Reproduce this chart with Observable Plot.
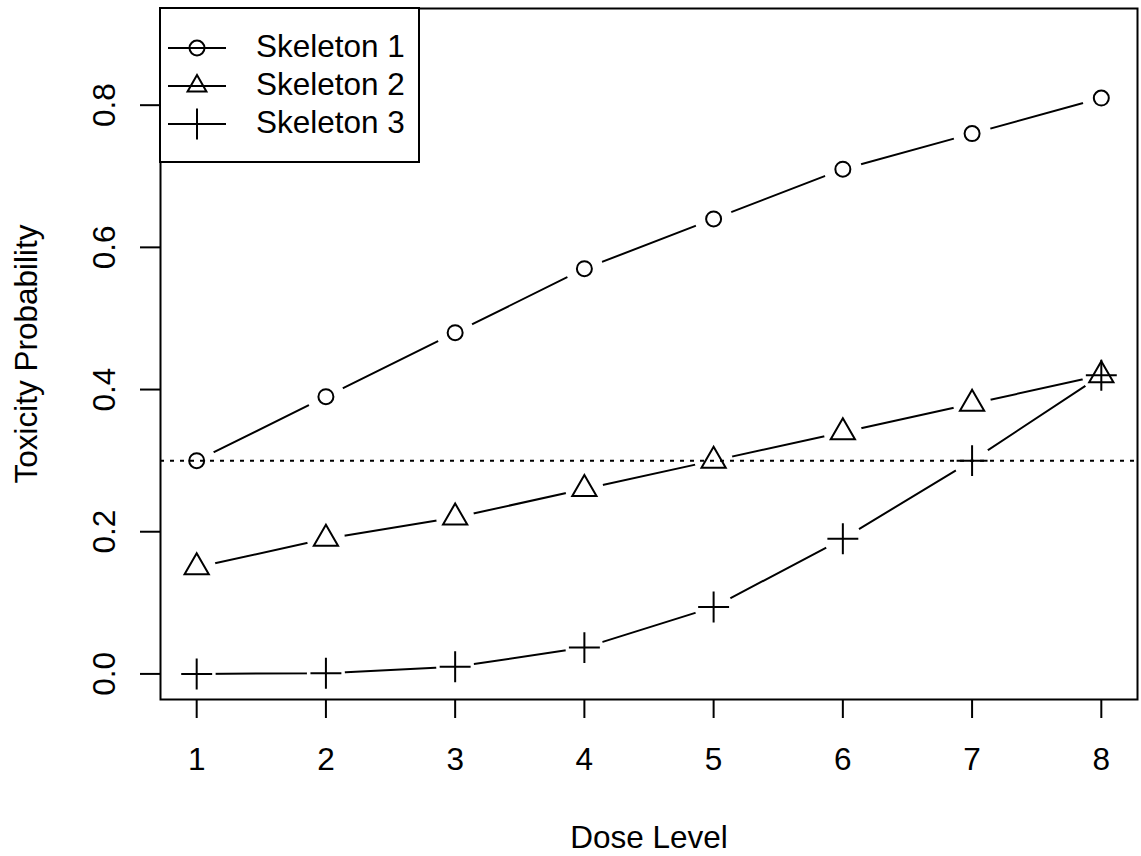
<!DOCTYPE html>
<html><head><meta charset="utf-8">
<script src="https://cdn.jsdelivr.net/npm/d3@7"></script>
<script src="https://cdn.jsdelivr.net/npm/@observablehq/plot@0.6"></script>
<style>
body{margin:0;background:#fff;}
#wrap{position:relative;width:1141px;height:856px;font-family:"Liberation Sans",Arial,sans-serif;}
#legend{position:absolute;left:159px;top:7px;}
</style></head><body><div id="wrap"></div>
<script>
const doses = [1, 2, 3, 4, 5, 6, 7, 8];
const skeleton1 = [0.30, 0.39, 0.48, 0.57, 0.64, 0.71, 0.76, 0.81];
const skeleton2 = [0.15, 0.19, 0.22, 0.26, 0.30, 0.34, 0.38, 0.42];
const skeleton3 = [0.000, 0.001, 0.010, 0.037, 0.094, 0.190, 0.300, 0.420];
const seriesNames = ["Skeleton 1", "Skeleton 2", "Skeleton 3"];
const seriesSymbols = ["circle", "triangle", "plus"];
const xTicks = doses;
const yTicks = [0.0, 0.2, 0.4, 0.6, 0.8];
const targetTox = 0.3;
const xTitle = "Dose Level";
const yTitle = "Toxicity Probability";

const rows = [];
[skeleton1, skeleton2, skeleton3].forEach((arr, i) =>
  arr.forEach((v, j) => rows.push({dose: doses[j], p: v, series: seriesNames[i]})));

const font = "'Liberation Sans', Arial, sans-serif";
const FS = 31.5;
const symR = {circle: 7.5, triangle: 9, plus: 10};

const symbolMarks = seriesNames.map((name, i) =>
  Plot.dot(rows.filter(d => d.series === name), {
    x: "dose", y: "p", symbol: seriesSymbols[i], r: symR[seriesSymbols[i]],
    stroke: "black", strokeWidth: 2, fill: "none"
  }));

const plot = Plot.plot({
  width: 1141, height: 856,
  marginLeft: 160, marginRight: 4, marginTop: 8, marginBottom: 157,
  x: {domain: [0.72, 8.28], label: null},
  y: {domain: [-0.036, 0.936], label: null},
  style: {fontFamily: font, background: "white", color: "black"},
  marks: [
    Plot.line(rows, {x: "dose", y: "p", z: "series", stroke: "black", strokeWidth: 2}),
    // white gaps around points (R type = "b")
    Plot.dot(rows, {x: "dose", y: "p", r: 19, fill: "white", fillOpacity: 1, stroke: null}),
    Plot.ruleY([targetTox], {stroke: "black", strokeWidth: 2, strokeDasharray: "4,6"}),
    ...symbolMarks,
    Plot.axisX({ticks: xTicks, tickSize: 19, tickFormat: () => "", strokeWidth: 2, label: null}),
    Plot.axisY({ticks: yTicks, tickSize: 20, tickFormat: () => "", strokeWidth: 2, label: null}),
    Plot.text(xTicks, {x: d => d, text: d => String(d), frameAnchor: "bottom", dy: 70, lineAnchor: "bottom", fontSize: FS, fill: "black"}),
    Plot.text(yTicks, {y: d => d, text: d => d.toFixed(1), frameAnchor: "left", dx: -46, rotate: -90, lineAnchor: "bottom", textAnchor: "middle", fontSize: FS, fill: "black"}),
    Plot.text([xTitle], {text: d => d, frameAnchor: "bottom", dy: 148, lineAnchor: "bottom", fontSize: FS, fill: "black"}),
    Plot.text([yTitle], {text: d => d, frameAnchor: "left", dx: -123.5, rotate: -90, lineAnchor: "bottom", textAnchor: "middle", fontSize: FS, fill: "black"}),
    Plot.frame({stroke: "black", strokeWidth: 2})
  ]
});
const wrap = document.getElementById("wrap");
wrap.appendChild(plot);

// legend overlay (R-style legend box)
const ns = "http://www.w3.org/2000/svg";
const leg = document.createElementNS(ns, "svg");
leg.setAttribute("id", "legend");
leg.setAttribute("width", 262);
leg.setAttribute("height", 157);
const W = 260, H = 155;
const box = document.createElementNS(ns, "rect");
box.setAttribute("x", 1); box.setAttribute("y", 1);
box.setAttribute("width", W - 1); box.setAttribute("height", H - 1);
box.setAttribute("fill", "white"); box.setAttribute("stroke", "black"); box.setAttribute("stroke-width", 2);
leg.appendChild(box);
seriesNames.forEach((name, i) => {
  const cy = 41 + i * 38;
  const ln = document.createElementNS(ns, "line");
  ln.setAttribute("x1", 9); ln.setAttribute("x2", 67);
  ln.setAttribute("y1", cy); ln.setAttribute("y2", cy);
  ln.setAttribute("stroke", "black"); ln.setAttribute("stroke-width", 2);
  leg.appendChild(ln);
  const sym = seriesSymbols[i];
  const r = symR[sym];
  const typeMap = {circle: d3.symbolCircle, triangle: d3.symbolTriangle2, plus: d3.symbolPlus};
  const p = document.createElementNS(ns, "path");
  p.setAttribute("d", d3.symbol(typeMap[sym], Math.PI * r * r)());
  p.setAttribute("transform", `translate(38,${cy})`);
  p.setAttribute("fill", "none");
  p.setAttribute("stroke", "black"); p.setAttribute("stroke-width", 2);
  leg.appendChild(p);
  const t = document.createElementNS(ns, "text");
  t.setAttribute("x", 97); t.setAttribute("y", cy + 8.5);
  t.setAttribute("font-size", FS); t.setAttribute("font-family", font);
  t.textContent = name;
  leg.appendChild(t);
});
wrap.appendChild(leg);
</script></body></html>
